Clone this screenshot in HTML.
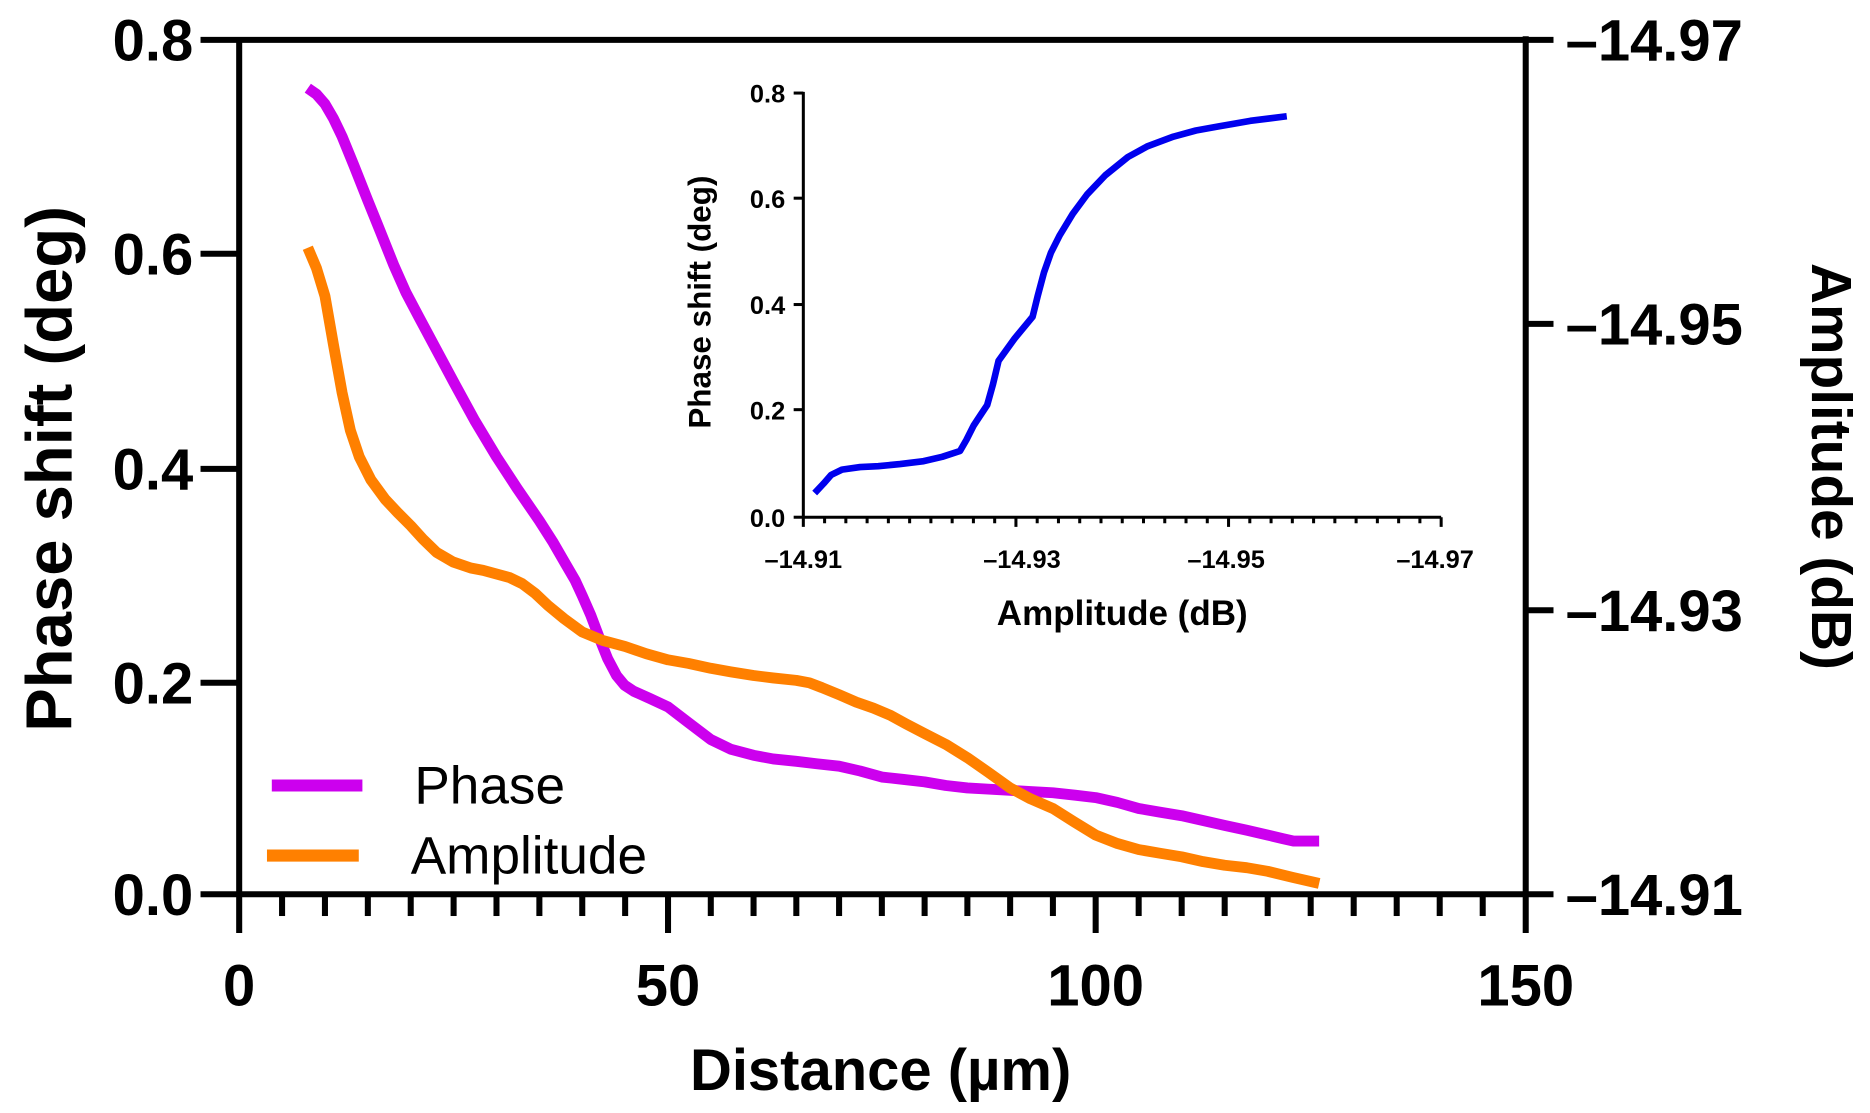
<!DOCTYPE html>
<html><head><meta charset="utf-8"><style>
html,body{margin:0;padding:0;background:#fff;}
svg{display:block;}
text{font-family:"Liberation Sans",Arial,sans-serif;fill:#000;}
</style></head><body>
<svg width="1870" height="1113" viewBox="0 0 1548 921" preserveAspectRatio="none" xmlns="http://www.w3.org/2000/svg">
<g stroke="#000" stroke-width="5" fill="none" stroke-linecap="butt">
<line x1="166" y1="33" x2="1263" y2="33"/>
<line x1="166" y1="740" x2="1263" y2="740"/>
<line x1="198" y1="33" x2="198" y2="772"/>
<line x1="1263" y1="30" x2="1263" y2="772"/>
<line x1="166" y1="210" x2="198" y2="210"/>
<line x1="166" y1="388" x2="198" y2="388"/>
<line x1="166" y1="565" x2="198" y2="565"/>
<line x1="553" y1="740" x2="553" y2="772"/>
<line x1="907" y1="740" x2="907" y2="772"/>
<line x1="1263" y1="33" x2="1286" y2="33"/>
<line x1="1263" y1="268" x2="1286" y2="268"/>
<line x1="1263" y1="505" x2="1286" y2="505"/>
<line x1="1263" y1="740" x2="1286" y2="740"/>
</g>
<g stroke="#000" stroke-width="5">
<line x1="233.5" y1="740" x2="233.5" y2="758"/><line x1="269" y1="740" x2="269" y2="758"/><line x1="304.5" y1="740" x2="304.5" y2="758"/><line x1="340" y1="740" x2="340" y2="758"/><line x1="375.5" y1="740" x2="375.5" y2="758"/><line x1="411" y1="740" x2="411" y2="758"/><line x1="446.5" y1="740" x2="446.5" y2="758"/><line x1="482" y1="740" x2="482" y2="758"/><line x1="517.5" y1="740" x2="517.5" y2="758"/>
<line x1="588.4" y1="740" x2="588.4" y2="758"/><line x1="623.8" y1="740" x2="623.8" y2="758"/><line x1="659.2" y1="740" x2="659.2" y2="758"/><line x1="694.6" y1="740" x2="694.6" y2="758"/><line x1="730" y1="740" x2="730" y2="758"/><line x1="765.4" y1="740" x2="765.4" y2="758"/><line x1="800.8" y1="740" x2="800.8" y2="758"/><line x1="836.2" y1="740" x2="836.2" y2="758"/><line x1="871.6" y1="740" x2="871.6" y2="758"/>
<line x1="942.6" y1="740" x2="942.6" y2="758"/><line x1="978.2" y1="740" x2="978.2" y2="758"/><line x1="1013.8" y1="740" x2="1013.8" y2="758"/><line x1="1049.4" y1="740" x2="1049.4" y2="758"/><line x1="1085" y1="740" x2="1085" y2="758"/><line x1="1120.6" y1="740" x2="1120.6" y2="758"/><line x1="1156.2" y1="740" x2="1156.2" y2="758"/><line x1="1191.8" y1="740" x2="1191.8" y2="758"/><line x1="1227.4" y1="740" x2="1227.4" y2="758"/>
</g>
<g font-size="48" font-weight="bold" text-anchor="end">
<text x="160" y="50">0.8</text><text x="160" y="227">0.6</text><text x="160" y="405">0.4</text><text x="160" y="582">0.2</text><text x="160" y="757">0.0</text>
</g>
<g font-size="48" font-weight="bold" text-anchor="middle">
<text x="198" y="832">0</text><text x="553" y="832">50</text><text x="907" y="832">100</text><text x="1263" y="832">150</text>
</g>
<g font-size="48" font-weight="bold" text-anchor="start">
<text x="1296" y="50">–14.97</text><text x="1296" y="285">–14.95</text><text x="1296" y="522">–14.93</text><text x="1296" y="757">–14.91</text>
</g>
<text x="729" y="902" font-size="48" font-weight="bold" text-anchor="middle">Distance (µm)</text>
<text transform="translate(59,388) rotate(-90)" font-size="54" font-weight="bold" text-anchor="middle">Phase shift (deg)</text>
<text transform="translate(1500,386) rotate(90)" font-size="47" font-weight="bold" text-anchor="middle">Amplitude (dB)</text>
<!-- curves -->
<polyline fill="none" stroke="#cc00ee" stroke-width="9" stroke-linejoin="round" stroke-linecap="butt" points="254.8,73 262,78 269,86 276,98 283.2,113 293,137 304.5,166 315,192 325.8,219 336,242 347.1,263 361,289 375.5,316 393,348 411,378 428,404 446.5,431 458,449 467.8,466 476,480 482,493 489,509 496.2,528 503,545 510.4,559 517,567 524.6,572 538,578 553,585 570,598 588.4,612 605,620 623.8,625 640,628 659.2,630 676,632 694.6,634 712,638 730,643 748,645 765.4,647 783,650 800.8,652 818,653 836.2,654 853,655 871.6,656 890,658 907,660 925,664 942.6,669 960,672 978.2,675 996,679 1013.8,683 1032,687 1049.4,691 1062,694 1070.8,696 1092,696"/>
<polyline fill="none" stroke="#ff8000" stroke-width="9" stroke-linejoin="round" stroke-linecap="butt" points="254.8,205 262,222 269,245 276,285 283.2,325 290,356 297.4,378 307,397 318.7,413 329,424 340,435 350,446 361.3,457 375,465 389.7,470 400,472 411,475 422,478 432.3,483 443,491 453.6,501 467,512 482,523 499,530 517.5,535 535,541 553,546 570,549 588.4,553 605,556 623.8,559 640,561 659.2,563 670,565 680.4,569 695,575 708.8,581 723,586 737.2,592 750,599 765.4,607 783,616 800.8,627 818,639 836.2,652 853,661 871.6,669 889,680 907,691 925,698 942.6,703 960,706 978.2,709 996,713 1013.8,716 1032,718 1049.4,721 1070,726 1092,731"/>
<!-- legend -->
<line x1="225" y1="650" x2="300" y2="650" stroke="#cc00ee" stroke-width="10"/>
<line x1="221" y1="708" x2="297" y2="708" stroke="#ff8000" stroke-width="10"/>
<text x="343" y="665" font-size="44">Phase</text>
<text x="340" y="723" font-size="44">Amplitude</text>
<!-- inset -->
<g stroke="#000" stroke-width="2.5" fill="none">
<line x1="665" y1="76" x2="665" y2="436"/>
<line x1="665" y1="428" x2="1193" y2="428"/>
<line x1="1193" y1="428" x2="1193" y2="436"/>
<line x1="657" y1="77" x2="665" y2="77"/><line x1="657" y1="164" x2="665" y2="164"/><line x1="657" y1="252" x2="665" y2="252"/><line x1="657" y1="339" x2="665" y2="339"/><line x1="657" y1="428" x2="665" y2="428"/>
<line x1="841" y1="428" x2="841" y2="436"/><line x1="1017" y1="428" x2="1017" y2="436"/>
</g>
<g stroke="#000" stroke-width="2.5" id="mt">
<line x1="682.6" y1="428" x2="682.6" y2="433"/><line x1="700.2" y1="428" x2="700.2" y2="433"/><line x1="717.8" y1="428" x2="717.8" y2="433"/><line x1="735.4" y1="428" x2="735.4" y2="433"/><line x1="753" y1="428" x2="753" y2="433"/><line x1="770.6" y1="428" x2="770.6" y2="433"/><line x1="788.2" y1="428" x2="788.2" y2="433"/><line x1="805.8" y1="428" x2="805.8" y2="433"/><line x1="823.4" y1="428" x2="823.4" y2="433"/>
</g>
<use href="#mt" x="176"/><use href="#mt" x="352"/>
<g font-size="21" font-weight="bold" text-anchor="end">
<text x="650" y="85">0.8</text><text x="650" y="172">0.6</text><text x="650" y="260">0.4</text><text x="650" y="347">0.2</text><text x="650" y="436">0.0</text>
</g>
<g font-size="21" font-weight="bold" text-anchor="middle">
<text x="665" y="470">–14.91</text><text x="846" y="470">–14.93</text><text x="1015" y="470">–14.95</text><text x="1188" y="470">–14.97</text>
</g>
<text x="929" y="517" font-size="29" font-weight="bold" text-anchor="middle">Amplitude (dB)</text>
<text transform="translate(588,250) rotate(-90)" font-size="26" font-weight="bold" text-anchor="middle">Phase shift (deg)</text>
<polyline fill="none" stroke="#0000ee" stroke-width="5.5" stroke-linejoin="round" points="674.4,408 681.9,400 688,393 697,388.6 712,386.5 727,385.8 745,384 764.6,381.6 780,378 794.7,373.2 800,364 806,352.1 812,343 817.2,335.2 822,318 826.6,298.6 840,280 854.8,262.1 859,245 864.2,225.5 870,209 877.3,194.6 888,177 899.9,160.9 915,145 933.7,129.9 950,121 971.3,113.1 990,108 1008.9,104.6 1035,100 1065.2,96.2"/>
</svg>
</body></html>
